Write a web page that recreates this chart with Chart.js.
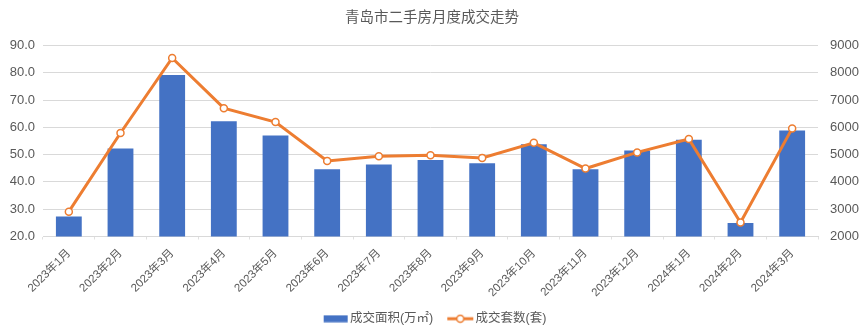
<!DOCTYPE html>
<html>
<head>
<meta charset="utf-8">
<script src="https://cdn.jsdelivr.net/npm/chart.js@4/dist/chart.umd.min.js"></script>
<style>
html,body{margin:0;padding:0;background:#fff;}
#wrap{width:864px;height:335px;position:relative;}
</style>
</head>
<body>
<div id="wrap"><canvas id="c" width="864" height="335"></canvas></div>
<script>
const categories = ["2023年1月","2023年2月","2023年3月","2023年4月","2023年5月","2023年6月","2023年7月","2023年8月","2023年9月","2023年10月","2023年11月","2023年12月","2024年1月","2024年2月","2024年3月"];
const areaValues = [27.3, 52.2, 79.2, 62.2, 57.0, 44.6, 46.4, 48.0, 46.8, 53.8, 44.6, 51.5, 55.4, 24.9, 58.8];
const unitValues = [2910, 5790, 8540, 6700, 6190, 4770, 4940, 4980, 4880, 5430, 4490, 5080, 5570, 2510, 5960];
const areaLabel = "成交面积(万㎡)";
const unitLabel = "成交套数(套)";
const titleText = "青岛市二手房月度成交走势";

const BLUE = "#4472C4";
const ORANGE = "#ED7D31";
const FONT = "'Liberation Sans', 'Noto Sans CJK SC', sans-serif";

// legend swatches: 52px-wide images centred on a 26px legend box
function barSwatch(){
  const c = document.createElement('canvas'); c.width = 52; c.height = 8;
  const g = c.getContext('2d'); g.fillStyle = BLUE; g.fillRect(19,0.5,24,7); return c;
}
function lineSwatch(){
  const c = document.createElement('canvas'); c.width = 52; c.height = 10;
  const g = c.getContext('2d');
  g.strokeStyle = ORANGE; g.lineWidth = 3; g.beginPath(); g.moveTo(17,5); g.lineTo(43,5); g.stroke();
  g.fillStyle = "#fff"; g.lineWidth = 1.5; g.beginPath(); g.arc(30,5,3.5,0,Math.PI*2); g.fill(); g.stroke();
  return c;
}
const swatches = [barSwatch(), lineSwatch()];

new Chart(document.getElementById('c'), {
  data: {
    labels: categories,
    datasets: [
      { type: 'line', label: unitLabel, data: unitValues, yAxisID: 'y1',
        borderColor: ORANGE, borderWidth: 3, backgroundColor: "#fff",
        pointRadius: 3.5, pointBorderWidth: 1.5, pointBackgroundColor: "#fff", pointBorderColor: ORANGE,
        tension: 0, order: 0 },
      { type: 'bar', label: areaLabel, data: areaValues, yAxisID: 'y',
        backgroundColor: BLUE, categoryPercentage: 1, barPercentage: 0.5, order: 1 }
    ]
  },
  options: {
    responsive: false,
    animation: false,
    devicePixelRatio: 1,
    layout: { padding: { top: 0, bottom: 0, left: 0, right: 0 } },
    plugins: {
      title: { display: true, text: titleText, color: "#595959",
        font: { family: FONT, size: 14.5, weight: 'normal' }, padding: { top: 9, bottom: 19 } },
      legend: { position: 'bottom',
        labels: { color: "#595959", font: { family: FONT, size: 12.5 }, usePointStyle: true, pointStyleWidth: 26, padding: 10,
          generateLabels: (chart) => {
            return [1,0].map((i, k) => ({
              text: chart.data.datasets[i].label, pointStyle: swatches[k],
              fillStyle: 'transparent', strokeStyle: 'transparent', lineWidth: 0,
              datasetIndex: i, hidden: false, fontColor: "#595959"
            }));
          } } },
      tooltip: { enabled: false }
    },
    scales: {
      x: { grid: { display: true, drawOnChartArea: false, drawTicks: true, tickLength: 3, offset: true, color: "#e0e0e0" },
        border: { color: "#d9d9d9" },
        ticks: { color: "#595959", font: { family: FONT, size: 11.5 }, minRotation: 45, maxRotation: 45, autoSkip: false, padding: 7 },
        afterFit: (s) => { s.height = 66; } },
      y: { position: 'left', min: 20, max: 90,
        ticks: { stepSize: 10, color: "#595959", font: { family: FONT, size: 13 }, callback: v => v.toFixed(1), padding: 8 },
        grid: { color: "#d9d9d9", drawTicks: false }, border: { display: false },
        afterFit: (s) => { s.width = 43; } },
      y1: { position: 'right', min: 2000, max: 9000,
        ticks: { stepSize: 1000, color: "#595959", font: { family: FONT, size: 13 }, padding: 12, callback: v => String(v) },
        grid: { display: false, drawTicks: false }, border: { display: false },
        afterFit: (s) => { s.width = 46; } }
    }
  }
});
</script>
</body>
</html>
